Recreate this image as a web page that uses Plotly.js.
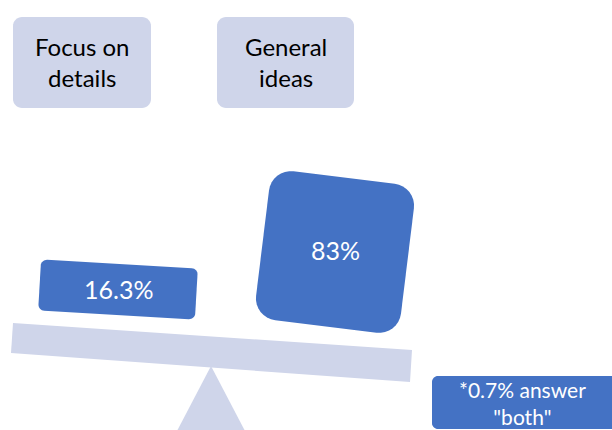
<!DOCTYPE html>
<html>
<head>
<meta charset="utf-8">
<script src="https://cdn.plot.ly/plotly-3.0.1.min.js"></script>
<style>html,body{margin:0;padding:0;background:#fff}#chart{width:612px;height:430px}</style>
</head>
<body>
<div id="chart"></div>
<script>
// ---- data ----
var categories = ["Focus on<br>details", "General<br>ideas"];
var values = [16.3, 83];
var bothValue = 0.7;
var noteLabel = "answer<br>\"both\"";

// ---- styles ----
var DARK = "#4472C4";
var LIGHT = "#CFD5EA";
var FONT = "Lato, 'Open Sans', sans-serif";

// rounded rotated rectangle path (pixel-like coords, y downward)
function rrect(cx, cy, w, h, r, angDeg) {
  var a = angDeg * Math.PI / 180, ca = Math.cos(a), sa = Math.sin(a);
  var pts = [];
  var corners = [[w/2 - r, -h/2 + r, -90], [w/2 - r, h/2 - r, 0], [-w/2 + r, h/2 - r, 90], [-w/2 + r, -h/2 + r, 180]];
  corners.forEach(function (c) {
    for (var i = 0; i <= 8; i++) {
      var t = (c[2] + i * 90 / 8) * Math.PI / 180;
      var lx = c[0] + r * Math.cos(t), ly = c[1] + r * Math.sin(t);
      pts.push([cx + lx * ca - ly * sa, cy + lx * sa + ly * ca]);
    }
  });
  return "M" + pts.map(function (p) { return p[0].toFixed(2) + "," + p[1].toFixed(2); }).join("L") + "Z";
}
function poly(pts) {
  return "M" + pts.map(function (p) { return p[0] + "," + p[1]; }).join("L") + "Z";
}

var boxes = [
  {cx: 118, cy: 289.5, w: 157, h: 51, r: 6, ang: 3.3, ty: 288.5},
  {cx: 335, cy: 252, w: 146, h: 150, r: 22, ang: 7, ty: 250}
];
var heads = [
  {x0: 13, x1: 151},
  {x0: 217, x1: 354}
];

var shapes = [];
// header boxes
heads.forEach(function (h) {
  shapes.push({type: "path", xref: "x", yref: "y", path: rrect((h.x0 + h.x1) / 2, 62.5, h.x1 - h.x0, 91, 9, 0), fillcolor: LIGHT, line: {width: 0}, layer: "below"});
});
// fulcrum
shapes.push({type: "path", xref: "x", yref: "y", path: poly([[211, 366], [245, 431], [177, 431]]), fillcolor: LIGHT, line: {width: 0}, layer: "below"});
// beam
shapes.push({type: "path", xref: "x", yref: "y", path: poly([[13, 323], [412, 350], [410, 382], [11, 353]]), fillcolor: LIGHT, line: {width: 0}, layer: "below"});
// value boxes
boxes.forEach(function (b) {
  shapes.push({type: "path", xref: "x", yref: "y", path: rrect(b.cx, b.cy, b.w, b.h, b.r, b.ang), fillcolor: DARK, line: {width: 0}, layer: "below"});
});
// note box
shapes.push({type: "path", xref: "x", yref: "y", path: rrect(525, 402.5, 186, 53, 6, 0), fillcolor: DARK, line: {width: 0}, layer: "below"});

var annotations = [];
categories.forEach(function (c, i) {
  annotations.push({x: (heads[i].x0 + heads[i].x1) / 2, y: 62, xref: "x", yref: "y", text: c, showarrow: false,
    font: {family: FONT, size: 24, color: "#000"}, xanchor: "center", yanchor: "middle"});
});
values.forEach(function (v, i) {
  annotations.push({x: boxes[i].cx, y: boxes[i].ty, xref: "x", yref: "y", text: v + "%", showarrow: false,
    font: {family: FONT, size: 25, color: "#fff"}, xanchor: "center", yanchor: "middle"});
});
annotations.push({x: 522, y: 403, xref: "x", yref: "y", text: "*" + bothValue + "% " + noteLabel, showarrow: false,
  font: {family: FONT, size: 21, color: "#fff"}, xanchor: "center", yanchor: "middle"});

var ax = {visible: false, showgrid: false, zeroline: false, fixedrange: true};
var layout = {
  width: 612, height: 430,
  margin: {l: 0, r: 0, t: 0, b: 0},
  paper_bgcolor: "#fff", plot_bgcolor: "#fff",
  xaxis: Object.assign({range: [0, 612]}, ax),
  yaxis: Object.assign({range: [430, 0]}, ax),
  shapes: shapes,
  annotations: annotations,
  showlegend: false
};

Plotly.newPlot("chart", [{x: [], y: [], type: "scatter", hoverinfo: "skip"}], layout, {staticPlot: true, displayModeBar: false});
</script>
</body>
</html>
